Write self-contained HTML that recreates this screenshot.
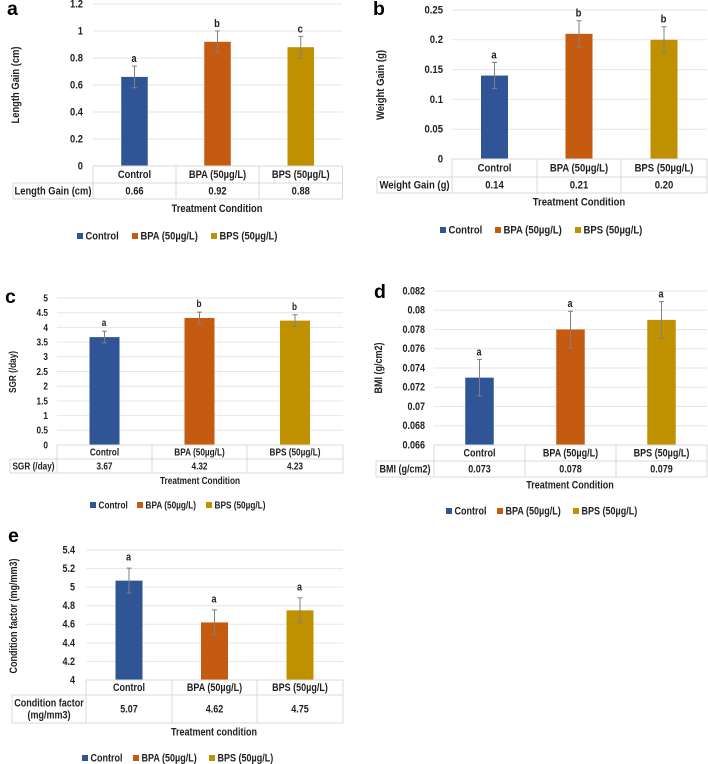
<!DOCTYPE html>
<html lang="en">
<head>
<meta charset="utf-8">
<title>Treatment condition charts</title>
<style>
html,body{margin:0;padding:0;background:#fff;width:708px;height:764px;overflow:hidden}
svg{display:block;filter:blur(.3px)}
text{font-family:"Liberation Sans",sans-serif;font-weight:bold;fill:#1f1f1f}
</style>
</head>
<body>
<svg id="figure" width="708" height="764" viewBox="0 0 708 764" xmlns="http://www.w3.org/2000/svg"></svg>
<script>
// Shared categories and legend
const categories = ["Control", "BPA (50µg/L)", "BPS (50µg/L)"];
const seriesColors = ["#2F5597", "#C55A11", "#BF9000"];

// Panel a
const lengthTicks = ["0", "0.2", "0.4", "0.6", "0.8", "1", "1.2"];
const lengthValues = [0.66, 0.92, 0.88];
const lengthErrors = [0.08, 0.08, 0.08];
const lengthLetters = ["a", "b", "c"];

// Panel b
const weightTicks = ["0", "0.05", "0.1", "0.15", "0.2", "0.25"];
const weightValues = [0.14, 0.21, 0.20];
const weightErrors = [0.022, 0.022, 0.022];
const weightLetters = ["a", "b", "b"];

// Panel c
const sgrTicks = ["0", "0.5", "1", "1.5", "2", "2.5", "3", "3.5", "4", "4.5", "5"];
const sgrValues = [3.67, 4.32, 4.23];
const sgrErrors = [0.2, 0.2, 0.2];
const sgrLetters = ["a", "b", "b"];

// Panel d
const bmiTicks = ["0.066", "0.068", "0.07", "0.072", "0.074", "0.076", "0.078", "0.08", "0.082"];
const bmiValues = [0.073, 0.078, 0.079];
const bmiErrors = [0.0019, 0.0019, 0.0019];
const bmiLetters = ["a", "a", "a"];

// Panel e
const conditionTicks = ["4", "4.2", "4.4", "4.6", "4.8", "5", "5.2", "5.4"];
const conditionValues = [5.07, 4.62, 4.75];
const conditionErrors = [0.135, 0.135, 0.135];
const conditionLetters = ["a", "a", "a"];

const panels = [
  {id:"a", letter:[7,15], ticks:lengthTicks, values:lengthValues, errors:lengthErrors, letters:lengthLetters, digits:2,
   yTitle:"Length Gain (cm)", xTitle:"Treatment Condition", rowHead:["Length Gain (cm)"],
   left:13, cols:[93,176,259,342.5], top:4, base:166, rows:[183,199], barW:26.5, tickX:83, yTitleX:19, yTitleY:85,
   xTitleX:217, xTitleY:212, legendY:236, legendX:[77,132,211], gap:7, fs:11},
  {id:"b", letter:[373,15], ticks:weightTicks, values:weightValues, errors:weightErrors, letters:weightLetters, digits:2,
   yTitle:"Weight Gain (g)", xTitle:"Treatment Condition", rowHead:["Weight Gain (g)"],
   left:377, cols:[452,537,621,707], top:10, base:159, rows:[177,193], barW:27, tickX:443, yTitleX:384, yTitleY:85,
   xTitleX:579, xTitleY:205.5, legendY:230, legendX:[440,495,575], gap:7, fs:11.2},
  {id:"c", letter:[5,303], ticks:sgrTicks, values:sgrValues, errors:sgrErrors, letters:sgrLetters, digits:2,
   yTitle:"SGR (/day)", xTitle:"Treatment Condition", rowHead:["SGR (/day)"],
   left:10, cols:[57,152,247,343], top:298, base:445, rows:[459,473], barW:30, tickX:48, yTitleX:16, yTitleY:372,
   xTitleX:200, xTitleY:484, legendY:505, legendX:[90,137,206], gap:8, fs:9.7},
  {id:"d", letter:[374,298], ticks:bmiTicks, values:bmiValues, errors:bmiErrors, letters:bmiLetters, digits:3,
   yTitle:"BMI (g/cm2)", xTitle:"Treatment Condition", rowHead:["BMI (g/cm2)"],
   left:376, cols:[434,525,616,707], top:291, base:445, rows:[461,477], barW:28.5, tickX:425, yTitleX:382, yTitleY:368,
   xTitleX:570, xTitleY:488.5, legendY:511, legendX:[446,497,573], gap:7, fs:10.6},
  {id:"e", letter:[8,542], ticks:conditionTicks, values:conditionValues, errors:conditionErrors, letters:conditionLetters, digits:2,
   yTitle:"Condition factor (mg/mm3)", xTitle:"Treatment condition", rowHead:["Condition factor","(mg/mm3)"],
   left:12, cols:[86,172,257,343], top:550, base:680, rows:[695,723], barW:27, tickX:75, yTitleX:17, yTitleY:616,
   xTitleX:214, xTitleY:735.5, legendY:758, legendX:[82,133,209], gap:10.5, fs:10.6}
];

const svg = document.getElementById("figure");
const NS = "http://www.w3.org/2000/svg";

function make(parent, tag, attrs, content) {
  const el = document.createElementNS(NS, tag);
  for (const k in attrs) el.setAttribute(k, attrs[k]);
  if (content !== undefined) el.textContent = content;
  parent.appendChild(el);
  return el;
}

function yAxisScale(panel) {
  const lo = parseFloat(panel.ticks[0]);
  const hi = parseFloat(panel.ticks[panel.ticks.length - 1]);
  return v => panel.base - (v - lo) / (hi - lo) * (panel.base - panel.top);
}

function xAxisCenter(panel, i) {
  return (panel.cols[i] + panel.cols[i + 1]) / 2;
}

function drawPanel(p) {
  const y = yAxisScale(p);
  const right = p.cols[p.cols.length - 1];
  const g = make(svg, "g", {"font-size": p.fs});
  
  

  const panelLetter = make(g, "text", {x:p.letter[0], y:p.letter[1], "font-size":19.5, "class":"panel-id", style:"fill:#000"}, p.id);
  
  

  // gridlines and tick labels
  p.ticks.forEach(t => {
    const v = parseFloat(t);
    const py = y(v);
    if (v !== parseFloat(p.ticks[0])) {
      const line = make(g, "line", {x1:p.cols[0], x2:right, y1:py, y2:py, stroke:"#e6e6e6", "stroke-width":1});
      
      
    }
    const label = make(g, "text", {x:p.tickX, y:py + 3.4, "text-anchor":"end"}, t);
    
    
  });

  // y-axis title
  const yTitle = make(g, "text", {x:p.yTitleX, y:p.yTitleY, "text-anchor":"middle",
    transform:"rotate(-90 " + p.yTitleX + " " + p.yTitleY + ")"}, p.yTitle);
  
  

  // bars, error bars, significance letters
  p.values.forEach((v, i) => {
    const cx = xAxisCenter(p, i);
    const top = y(v);
    const bar = make(g, "rect", {x:cx - p.barW / 2, y:top, width:p.barW, height:p.base - top, fill:seriesColors[i]});
    
    

    const hi = y(v + p.errors[i]);
    const lo = y(v - p.errors[i]);
    const err = make(g, "path", {d:"M" + cx + " " + hi + "V" + lo + "M" + (cx - 2.5) + " " + hi + "H" + (cx + 2.5) + "M" + (cx - 2.5) + " " + lo + "H" + (cx + 2.5),
      stroke:"#808080", "stroke-width":1, fill:"none"});
    
    

    const sig = make(g, "text", {x:cx - 0.5, y:hi - p.gap + 3, "text-anchor":"middle"}, p.letters[i]);
    
    
  });

  // data table
  const r1 = p.rows[0], r2 = p.rows[1];
  const grid = make(g, "path", {d:
    "M" + p.cols[0] + " " + p.base + "H" + right +
    "M" + p.left + " " + r1 + "H" + right +
    "M" + p.left + " " + r2 + "H" + right +
    "M" + p.left + " " + r1 + "V" + r2 +
    p.cols.map(c => "M" + c + " " + p.base + "V" + r2).join(""),
    stroke:"#d9d9d9", "stroke-width":1, fill:"none"});
  
  

  categories.forEach((c, i) => {
    const cell = make(g, "text", {x:xAxisCenter(p, i), y:(p.base + r1) / 2 + 3.6, "text-anchor":"middle"}, c);
    
    
    const val = make(g, "text", {x:xAxisCenter(p, i), y:(r1 + r2) / 2 + 3.6, "text-anchor":"middle"}, p.values[i].toFixed(p.digits));
    
    
  });

  p.rowHead.forEach((line, i) => {
    const midY = (r1 + r2) / 2 + 3.6 + (i - (p.rowHead.length - 1) / 2) * 12;
    const head = make(g, "text", {x:(p.left + p.cols[0]) / 2, y:midY, "text-anchor":"middle"}, line);
    
    
  });

  // x-axis title
  const xTitle = make(g, "text", {x:p.xTitleX, y:p.xTitleY, "text-anchor":"middle"}, p.xTitle);
  
  

  // legend
  categories.forEach((c, i) => {
    const swatch = make(g, "rect", {x:p.legendX[i], y:p.legendY - 3, width:6, height:6, fill:seriesColors[i]});
    
    
    const entry = make(g, "text", {x:p.legendX[i] + 8.5, y:p.legendY + 3.6}, c);
    
    
  });
}

panels.forEach(drawPanel);

// Condense label glyphs to match the narrow bold face of the original
svg.querySelectorAll("text:not(.panel-id)").forEach(t => {
  t.setAttribute("textLength", (t.getComputedTextLength() * 0.85).toFixed(2));
  t.setAttribute("lengthAdjust", "spacingAndGlyphs");
});
</script>
</body>
</html>
